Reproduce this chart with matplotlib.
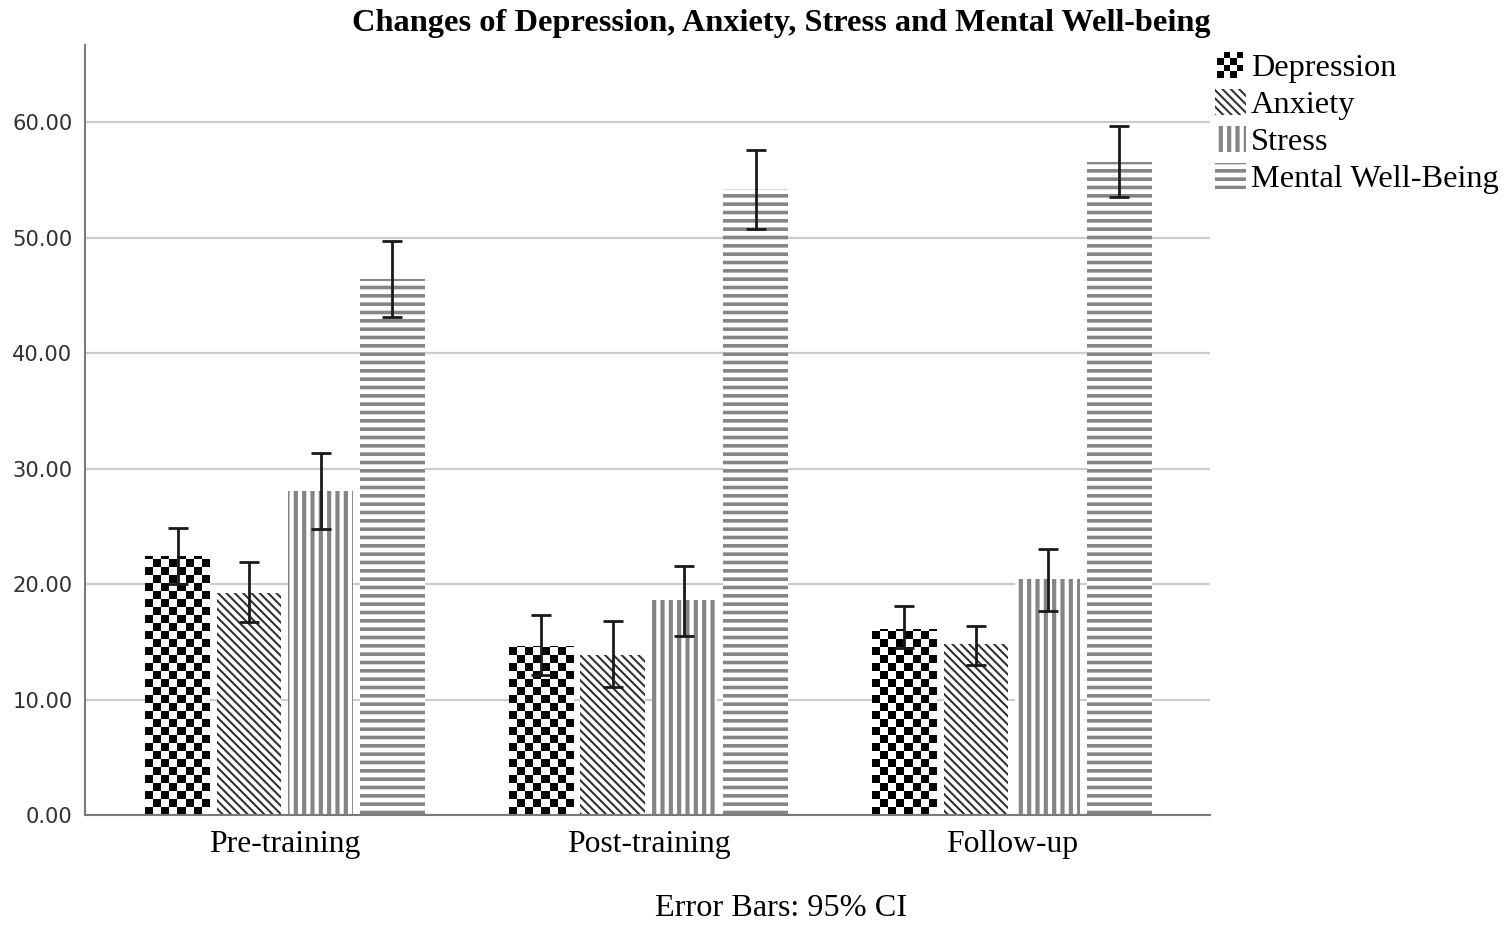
import numpy as np
import matplotlib
matplotlib.use('Agg')
import matplotlib.pyplot as plt
from matplotlib.patches import Rectangle
from matplotlib.legend_handler import HandlerBase, HandlerPatch

# ===> Data (means and 95% CI)
phases = ['Pre-training', 'Post-training', 'Follow-up']
series = ['Depression', 'Anxiety', 'Stress', 'Mental Well-Being']

depression = [22.4, 14.6, 16.1]
depression_lo = [20.0, 12.1, 14.5]
depression_hi = [24.9, 17.3, 18.1]

anxiety = [19.2, 13.9, 14.8]
anxiety_lo = [16.7, 11.1, 13.0]
anxiety_hi = [21.9, 16.8, 16.4]

stress = [28.1, 18.6, 20.4]
stress_lo = [24.8, 15.5, 17.7]
stress_hi = [31.4, 21.6, 23.0]

wellbeing = [46.4, 54.2, 56.6]
wellbeing_lo = [43.1, 50.8, 53.5]
wellbeing_hi = [49.7, 57.6, 59.7]

yticks = [0, 10, 20, 30, 40, 50, 60]

means = [depression, anxiety, stress, wellbeing]
lows = [depression_lo, anxiety_lo, stress_lo, wellbeing_lo]
highs = [depression_hi, anxiety_hi, stress_hi, wellbeing_hi]


class HandlerChecker(HandlerBase):
    # small checkerboard box for the legend
    def create_artists(self, legend, orig_handle, xdescent, ydescent,
                       width, height, fontsize, trans):
        n = 4
        side = min(width, height)
        s = side / n
        x0 = -xdescent + (width - side) / 2
        y0 = -ydescent
        arts = []
        for i in range(n):
            for j in range(n):
                if (i + j) % 2 == 0:
                    r = Rectangle((x0 + i * s, y0 + j * s), s, s,
                                  facecolor='black', edgecolor='none',
                                  transform=trans)
                    arts.append(r)
        return arts


def make_update(lw):
    def f(legend_handle, orig_handle):
        legend_handle.update_from(orig_handle.patches[0])
        if hasattr(legend_handle, 'set_hatch_linewidth'):
            legend_handle.set_hatch_linewidth(lw)
    return f


fig = plt.figure(figsize=(15.07, 9.27), dpi=100)
ax = fig.add_axes([85 / 1507, 1 - 815 / 927, 1125 / 1507, 770 / 927])

x = np.arange(len(phases))
slot = 0.197
width = 0.178
offsets = (np.arange(4) - 1.5) * slot

hatches = [None, '\\\\\\\\', '||', '--']
hcolors = ['black', '#333333', '#858585', '#858585']
hwidths = [1.0, 1.5, 3.0, 2.6]

containers = []
for k in range(4):
    with plt.rc_context({'hatch.linewidth': hwidths[k]}):
        bc = ax.bar(x + offsets[k], means[k], width, facecolor='white',
                    edgecolor=hcolors[k], linewidth=0, hatch=hatches[k],
                    zorder=2, label=series[k])
    for p in bc:
        if hasattr(p, 'set_hatch_linewidth'):
            p.set_hatch_linewidth(hwidths[k])
    containers.append(bc)
    err = [np.array(means[k]) - np.array(lows[k]),
           np.array(highs[k]) - np.array(means[k])]
    ax.errorbar(x + offsets[k], means[k], yerr=err, fmt='none',
                ecolor='#1a1a1a', elinewidth=2, capsize=7, capthick=2,
                zorder=4)

ylim_top = 66.7
# checkerboard fill for depression bars (image clipped to bar)
sq_y = 8 / (770 / ylim_top)
for p in containers[0]:
    x0 = p.get_x()
    w = p.get_width()
    h = p.get_height()
    nx = 8
    ny = int(np.ceil(h / sq_y))
    board = (np.indices((ny, nx)).sum(axis=0) % 2).astype(float)
    im = ax.imshow(board, cmap='gray', interpolation='nearest', origin='lower',
                   extent=(x0, x0 + w, 0, ny * sq_y), aspect='auto', zorder=2.5)
    im.set_clip_path(p)

ax.set_xlim(-0.55, 2.545)
ax.set_ylim(0, ylim_top)
ax.set_yticks(yticks)
ax.set_yticklabels(['%.2f' % v for v in yticks])
ax.set_xticks(x)
ax.set_xticklabels(phases, family='Liberation Serif', fontsize=22.8)
for t in ax.get_yticklabels():
    t.set_fontsize(15.2)
    t.set_color('#333333')
ax.tick_params(axis='y', length=0, pad=9)
ax.tick_params(axis='x', length=0, pad=11)
ax.yaxis.grid(True, color='#cccccc', linewidth=1.6, zorder=0)
ax.set_axisbelow(True)
for s in ['top', 'right']:
    ax.spines[s].set_visible(False)
for s in ['left', 'bottom']:
    ax.spines[s].set_color('#7a7a7a')
    ax.spines[s].set_linewidth(1.5)

fig.text(781 / 1507, 1 - 23 / 927, 'Changes of Depression, Anxiety, Stress and Mental Well-being',
         ha='center', va='center', family='Liberation Serif', fontweight='bold', fontsize=23.3)
fig.text(781 / 1507, 1 - 909 / 927, 'Error Bars: 95% CI', ha='center', va='center',
         family='Liberation Serif', fontsize=23.2)

handles = [containers[0], containers[1], containers[2], containers[3]]
hmap = {containers[0]: HandlerChecker()}
for k in range(1, 4):
    hmap[containers[k]] = HandlerPatch(update_func=make_update(hwidths[k]))
fig.legend(handles, series, loc='upper left', bbox_to_anchor=(1215 / 1507, 1 - 52 / 927),
           frameon=False, prop={'family': 'Liberation Serif', 'size': 23.3},
           handlelength=0.95, handleheight=0.85, handletextpad=0.15, labelspacing=0.18,
           borderpad=0, borderaxespad=0, handler_map=hmap)

fig.savefig('out.png', dpi=100)
